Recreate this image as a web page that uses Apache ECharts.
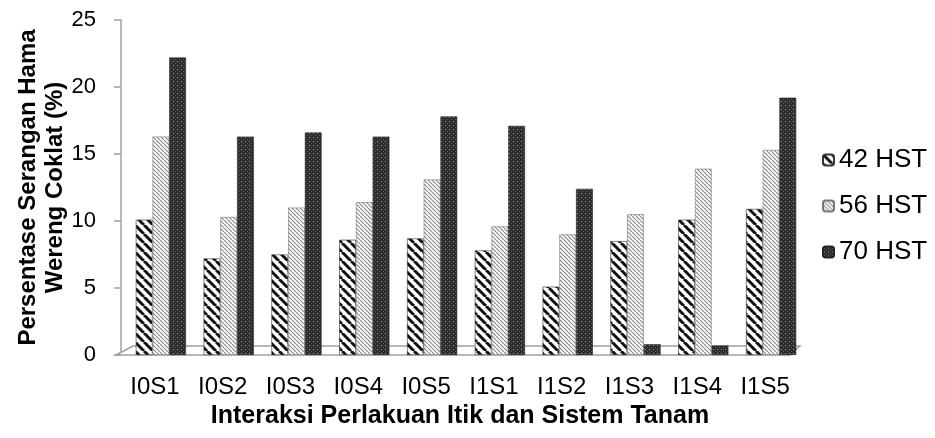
<!DOCTYPE html>
<html>
<head>
<meta charset="utf-8">
<script src="https://cdn.jsdelivr.net/npm/echarts@6/dist/echarts.min.js"></script>
<style>
  html, body { margin: 0; padding: 0; background: #fff; }
  #chart { width: 935px; height: 438px; }
</style>
</head>
<body>
<div id="chart"></div>
<script>
// Treatment combinations (duck treatment x planting system)
const categories = ['I0S1', 'I0S2', 'I0S3', 'I0S4', 'I0S5', 'I1S1', 'I1S2', 'I1S3', 'I1S4', 'I1S5'];
const seriesNames = ['42 HST', '56 HST', '70 HST'];
// Brown planthopper attack (%) by observation day
const hst42 = [10.1, 7.2, 7.5, 8.6, 8.7, 7.8, 5.1, 8.5, 10.1, 10.9];
const hst56 = [16.3, 10.3, 11.0, 11.4, 13.1, 9.6, 9.0, 10.5, 13.9, 15.3];
const hst70 = [22.2, 16.3, 16.6, 16.3, 17.8, 17.1, 12.4, 0.8, 0.7, 19.2];
const yTicks = { min: 0, max: 25, interval: 5 };

// Pattern fills
function stripes(size, lineW, fg, bg) {
  const c = document.createElement('canvas');
  c.width = size; c.height = size;
  const g = c.getContext('2d');
  g.fillStyle = bg; g.fillRect(0, 0, size, size);
  g.strokeStyle = fg; g.lineWidth = lineW;
  for (let k = -1; k <= 1; k++) {
    g.beginPath();
    g.moveTo(k * size, 0);
    g.lineTo(k * size + size, size);
    g.stroke();
  }
  return c;
}
function dots() {
  const c = document.createElement('canvas');
  c.width = 4; c.height = 4;
  const g = c.getContext('2d');
  g.fillStyle = '#2e2e2e'; g.fillRect(0, 0, 4, 4);
  g.fillStyle = '#9a9a9a'; g.fillRect(1, 1, 1, 1);
  g.fillStyle = '#5a5a5a'; g.fillRect(3, 3, 1, 1);
  return c;
}
const fill42 = { image: stripes(9, 3, '#111', '#fff'), repeat: 'repeat' };
const fill56 = { image: stripes(4, 1.2, '#8a8a8a', '#fff'), repeat: 'repeat' };
const fill70 = { image: dots(), repeat: 'repeat' };

const font = '"Liberation Sans", Arial, sans-serif';
const chart = echarts.init(document.getElementById('chart'), null, { renderer: 'canvas' });

// Bars sit on the back of the floor, a few pixels right of the axis
const depth = 6;
const axisL = 121, gridR = 136 - depth, gridT = 20, gridB = 83;

function bar(name, data, fill, edge) {
  return {
    name, type: 'bar', data, barGap: '0%', barCategoryGap: '26%',
    itemStyle: { color: fill, borderColor: edge, borderWidth: 0.6 },
    z: 3
  };
}

chart.setOption({
  animation: false,
  backgroundColor: '#fff',
  grid: { left: axisL + depth, right: gridR, top: gridT, bottom: gridB },
  legend: {
    orient: 'vertical', left: 817, top: 142, itemGap: 20,
    itemWidth: 11, itemHeight: 11,
    textStyle: { fontFamily: font, fontSize: 26, color: '#000' },
    data: seriesNames
  },
  xAxis: {
    type: 'category', data: categories,
    axisLine: { show: false }, axisTick: { show: false },
    axisLabel: { fontFamily: font, fontSize: 24, color: '#000', margin: 20, padding: [0, depth * 2, 0, 0] },
    name: 'Interaksi Perlakuan Itik dan Sistem Tanam',
    nameLocation: 'middle', nameGap: 49, nameMoveOverlap: false,
    nameTextStyle: { fontFamily: font, fontSize: 25, fontWeight: 'bold', color: '#000', padding: [0, depth * 2, 0, 0] }
  },
  yAxis: {
    type: 'value', min: yTicks.min, max: yTicks.max, interval: yTicks.interval,
    offset: depth,
    axisLine: { show: true, lineStyle: { color: '#a0a0a0', width: 1.5 } },
    axisTick: { show: true, length: 7, lineStyle: { color: '#a0a0a0', width: 1.5 } },
    splitLine: { show: false },
    axisLabel: { fontFamily: font, fontSize: 22, color: '#000', margin: 25 },
    name: 'Persentase Serangan Hama\nWereng Coklat (%)',
    nameLocation: 'middle', nameGap: 52, nameRotate: 90, nameMoveOverlap: false,
    nameTextStyle: { fontFamily: font, fontSize: 24, fontWeight: 'bold', color: '#000', lineHeight: 27 }
  },
  series: [
    bar(seriesNames[0], hst42, fill42, '#333'),
    bar(seriesNames[1], hst56, fill56, '#777'),
    bar(seriesNames[2], hst70, fill70, '#222')
  ]
});

// Floor plane beneath the bars
const W = 935, H = 438;
const x0 = axisL, x1 = W - 136, yb = H - gridB;
chart.setOption({
  graphic: [{
    type: 'polygon', z: 1, silent: true,
    shape: { points: [[x0 - 5, yb], [x0 + 12, yb - 9], [x1 + 1, yb - 9], [x1 - 9, yb]] },
    style: { fill: '#fff', stroke: '#a0a0a0', lineWidth: 1.5 }
  }]
});
</script>
</body>
</html>
